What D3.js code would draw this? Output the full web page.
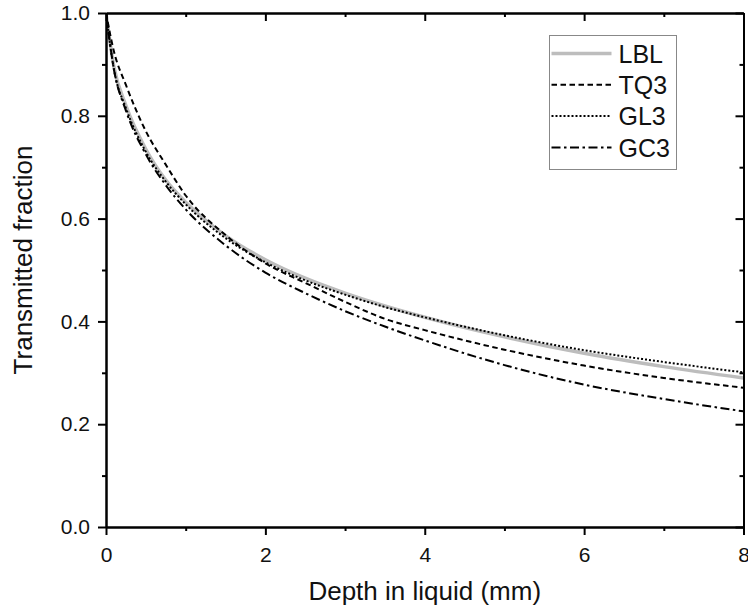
<!DOCTYPE html>
<html>
<head>
<meta charset="utf-8">
<script src="https://cdn.jsdelivr.net/npm/d3@7"></script>
<style>
  body { margin: 0; background: #fff; }
  svg, svg text { font-family: "Liberation Sans", Arial, sans-serif; }
  .axis path, .axis line { stroke: #000; }
  .axis text { font-size: 21px; fill: #111; font-family: "Liberation Sans", Arial, sans-serif; }
</style>
</head>
<body>
<div class="chart"></div>
<script>
// depth in liquid (mm)
const depth = [0, 0.1, 0.25, 0.5, 0.75, 1, 1.5, 2, 2.5, 3, 3.5, 4, 5, 6, 7, 8];

// transmitted fraction
const lbl = [1.0, 0.895, 0.82, 0.735, 0.675, 0.632, 0.567, 0.52, 0.484, 0.455, 0.43, 0.408, 0.37, 0.338, 0.312, 0.29];
const tq3 = [1.0, 0.925, 0.86, 0.77, 0.705, 0.645, 0.568, 0.513, 0.475, 0.438, 0.405, 0.383, 0.345, 0.314, 0.29, 0.271];
const gl3 = [1.0, 0.89, 0.815, 0.73, 0.672, 0.628, 0.562, 0.515, 0.48, 0.452, 0.428, 0.408, 0.373, 0.344, 0.321, 0.301];
const gc3 = [1.0, 0.89, 0.81, 0.725, 0.665, 0.618, 0.548, 0.495, 0.455, 0.42, 0.39, 0.363, 0.315, 0.277, 0.249, 0.225];

const seriesNames = ['LBL', 'TQ3', 'GL3', 'GC3'];
const xTicks = [0, 2, 4, 6, 8];
const yTicks = [0, 0.2, 0.4, 0.6, 0.8, 1.0];

// line styles per series
const styles = {
    LBL: {stroke: '#bdbdbd', width: 3.5, dash: null},
    TQ3: {stroke: '#000', width: 2, dash: '5.5,3.5'},
    GL3: {stroke: '#000', width: 2, dash: '2,2'},
    GC3: {stroke: '#000', width: 2, dash: '9,3.5,2.5,3.5'}
};

const series = [lbl, tq3, gl3, gc3].map((vals, i) => ({
    name: seriesNames[i],
    values: vals.map((v, j) => ({x: depth[j], y: v}))
}));

const svg_width = 748, svg_height = 608;
const margin = {top: 13, right: 4.5, bottom: 81, left: 106};
const width = svg_width - margin.left - margin.right;
const height = svg_height - margin.top - margin.bottom;

const svg = d3.select('.chart').append('svg')
    .attr('width', svg_width).attr('height', svg_height);
const g = svg.append('g').attr('transform', `translate(${margin.left},${margin.top})`);

const xScale = d3.scaleLinear([0, 8], [0, width]);
const yScale = d3.scaleLinear([0, 1], [height, 0]);

const minorX = [1, 3, 5, 7];
const minorY = [0.1, 0.3, 0.5, 0.7, 0.9];

// curves (clip to plot)
g.append('clipPath').attr('id', 'clip')
    .append('rect').attr('width', width).attr('height', height);

const line = d3.line().x(d => xScale(d.x)).y(d => yScale(d.y)).curve(d3.curveMonotoneX);

g.append('g').attr('clip-path', 'url(#clip)')
    .selectAll('path').data(series).join('path')
    .attr('d', d => line(d.values))
    .attr('fill', 'none')
    .attr('stroke', d => styles[d.name].stroke)
    .attr('stroke-width', d => styles[d.name].width)
    .attr('stroke-dasharray', d => styles[d.name].dash);

// axes: bottom/left labelled, top/right mirror ticks inward
function drawAxis(axisGen, tr, cls) {
    return g.append('g').attr('class', 'axis ' + cls)
        .attr('transform', tr).call(axisGen)
        .attr('font-family', null).attr('font-size', null)
        .call(s => s.select('.domain').attr('stroke-width', 2));
}

drawAxis(d3.axisBottom(xScale).tickValues(xTicks).tickFormat(d3.format('d')).tickSizeInner(8).tickSizeOuter(0).tickPadding(12),
    `translate(0,${height})`, 'x');
drawAxis(d3.axisBottom(xScale).tickValues(minorX).tickFormat('').tickSizeInner(4).tickSizeOuter(0),
    `translate(0,${height})`, 'x-minor');
drawAxis(d3.axisLeft(yScale).tickValues(yTicks).tickFormat(d3.format('.1f')).tickSizeInner(8).tickSizeOuter(0).tickPadding(8),
    'translate(0,0)', 'y');
drawAxis(d3.axisLeft(yScale).tickValues(minorY).tickFormat('').tickSizeInner(4).tickSizeOuter(0),
    'translate(0,0)', 'y-minor');
drawAxis(d3.axisTop(xScale).tickValues(xTicks).tickFormat('').tickSizeInner(-8).tickSizeOuter(0),
    'translate(0,0)', 'x-top');
drawAxis(d3.axisTop(xScale).tickValues(minorX).tickFormat('').tickSizeInner(-4).tickSizeOuter(0),
    'translate(0,0)', 'x-top-minor');
drawAxis(d3.axisRight(yScale).tickValues(yTicks).tickFormat('').tickSizeInner(-8).tickSizeOuter(0),
    `translate(${width},0)`, 'y-right');
drawAxis(d3.axisRight(yScale).tickValues(minorY).tickFormat('').tickSizeInner(-4).tickSizeOuter(0),
    `translate(${width},0)`, 'y-right-minor');

g.selectAll('.tick line').attr('stroke-width', 2);

// axis titles
svg.append('text')
    .attr('x', margin.left + width / 2).attr('y', 600)
    .attr('text-anchor', 'middle').style('font-size', '26px').style('fill', '#111')
    .text('Depth in liquid (mm)');
svg.append('text')
    .attr('transform', `translate(32,${margin.top + height / 2 - 10}) rotate(-90)`)
    .attr('text-anchor', 'middle').style('font-size', '26px').style('fill', '#111')
    .text('Transmitted fraction');

// legend
const legend = svg.append('g').attr('transform', 'translate(549.5,35.5)');
legend.append('rect').attr('width', 127).attr('height', 134)
    .attr('fill', '#fff').attr('stroke', '#888').attr('stroke-width', 1);
const items = legend.selectAll('.item').data(series).join('g')
    .attr('class', 'item')
    .attr('transform', (d, i) => `translate(0,${18 + i * 31.3})`);
items.append('line').attr('x1', 2).attr('x2', 62)
    .attr('stroke', d => styles[d.name].stroke)
    .attr('stroke-width', d => styles[d.name].width)
    .attr('stroke-dasharray', d => styles[d.name].dash);
items.append('text').attr('x', 69).attr('y', 9.3)
    .style('font-size', '25px').style('fill', '#111')
    .text(d => d.name);
</script>
</body>
</html>
